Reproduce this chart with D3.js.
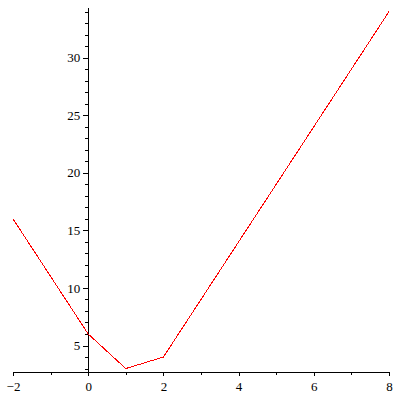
<!DOCTYPE html>
<html>
<head>
<meta charset="utf-8">
<script src="https://cdn.jsdelivr.net/npm/d3@7"></script>
<style>
  html, body { margin: 0; padding: 0; background: #fff; }
  svg { display: block; }
  text { font-family: "Liberation Serif", "Times New Roman", serif; font-size: 13px; fill: #000; }
</style>
</head>
<body>
<svg id="chart" width="400" height="400"></svg>
<script>
// Data (vertices of the plotted piecewise-linear curve)
const xValues = [-2, 0, 1, 2, 8];
const yValues = [16, 6, 3, 4, 34];

// Tick values
const xMajorTicks = [-2, 0, 2, 4, 6, 8];
const xTickLabels = ["\u22122", "0", "2", "4", "6", "8"];
const xMinorTicks = [-1, 1, 3, 5, 7];
const yMajorTicks = [5, 10, 15, 20, 25, 30];
const yTickLabels = ["5", "10", "15", "20", "25", "30"];
const yMinorTicks = [3, 4, 6, 7, 8, 9, 11, 12, 13, 14, 16, 17, 18, 19, 21, 22, 23, 24, 26, 27, 28, 29, 31, 32, 33, 34];

const svg = d3.select("#chart");

const x = d3.scaleLinear().domain([-2, 8]).range([13, 389]);
const y = d3.scaleLinear().domain([2.7, 34.4]).range([372, 7]);

const xAxisY = 372;
const yAxisX = x(0);

// X axis: minor ticks
svg.append("g")
  .attr("transform", `translate(0,${xAxisY})`)
  .call(d3.axisBottom(x).tickValues(xMinorTicks).tickSize(3).tickSizeOuter(0).tickFormat(""))
  .call(g => g.select(".domain").remove());

// X axis: major ticks + labels
const gx = svg.append("g")
  .attr("transform", `translate(0,${xAxisY})`)
  .call(d3.axisBottom(x).tickValues(xMajorTicks).tickSize(4).tickSizeOuter(0)
    .tickFormat((d, i) => xTickLabels[i]));
gx.selectAll("text").attr("y", 19).attr("dy", 0).style("font-size", "13px")
  .style("font-family", "'Liberation Serif', 'Times New Roman', serif");

// Y axis: minor ticks
svg.append("g")
  .attr("transform", `translate(${yAxisX},0)`)
  .call(d3.axisLeft(y).tickValues(yMinorTicks).tickSize(3).tickSizeOuter(0).tickFormat(""))
  .call(g => g.select(".domain").remove());

// Y axis: major ticks + labels
const gy = svg.append("g")
  .attr("transform", `translate(${yAxisX},0)`)
  .call(d3.axisLeft(y).tickValues(yMajorTicks).tickSize(5).tickSizeOuter(0)
    .tickFormat((d, i) => yTickLabels[i]));
gy.selectAll("text").attr("x", -8).attr("dy", "0.32em").style("font-size", "13px")
  .style("font-family", "'Liberation Serif', 'Times New Roman', serif");

svg.selectAll(".domain, .tick line").attr("stroke", "#000").attr("shape-rendering", "crispEdges");

// Curve
const pts = xValues.map((v, i) => [v, yValues[i]]);
svg.append("path")
  .datum(pts)
  .attr("fill", "none")
  .attr("stroke", "#ff0000")
  .attr("stroke-width", 1)
  .attr("shape-rendering", "crispEdges")
  .attr("d", d3.line().x(d => x(d[0])).y(d => y(d[1])));
</script>
</body>
</html>
